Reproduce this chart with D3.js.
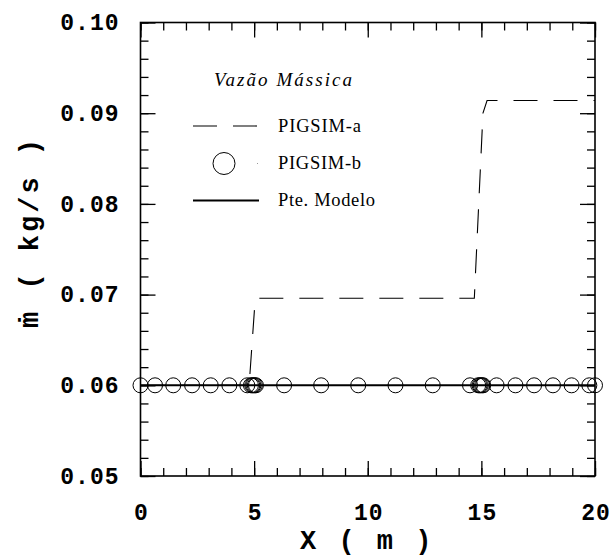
<!DOCTYPE html>
<html>
<head>
<meta charset="utf-8">
<script src="https://cdn.jsdelivr.net/npm/d3@7"></script>
<style>
  body { margin: 0; background: #fff; }
  svg { display: block; }
  .tick text { font-family: "Liberation Mono", "Courier New", monospace; font-weight: bold; font-size: 23px; letter-spacing: 1px; fill: #000; }
</style>
</head>
<body>
<svg id="chart" width="611" height="558"></svg>
<script>
// axis limits and tick values
const xDomain = [0, 20];
const yDomain = [0.05, 0.10];
const xMajor = [0, 5, 10, 15, 20];
const yMajor = [0.05, 0.06, 0.07, 0.08, 0.09, 0.10];

// PIGSIM-a (dashed line)
const pigsimAx = [0, 4.78, 5.05, 14.69, 15.07, 15.25, 20];
const pigsimAy = [0.06, 0.06, 0.0696, 0.0696, 0.0900, 0.0914, 0.0914];

// PIGSIM-b (open circles)
const pigsimBx = [0, 0.64, 1.44, 2.27, 3.09, 3.91, 4.70, 4.86, 4.92, 4.97, 5.03, 5.08,
                  6.32, 7.95, 9.58, 11.22, 12.86, 14.50, 14.86, 14.92, 14.97, 15.03, 15.08,
                  15.67, 16.5, 17.32, 18.15, 18.97, 19.75, 20];
const pigsimBy = pigsimBx.map(() => 0.06);

// Pte. Modelo (solid line)
const modeloX = [0, 20];
const modeloY = [0.06, 0.06];

const legendLabels = ["PIGSIM-a", "PIGSIM-b", "Pte. Modelo"];

const svg = d3.select("#chart");

const pLeft = 140.5, pRight = 595, pTop = 22.5, pBottom = 476;

const x = d3.scaleLinear().domain(xDomain).range([pLeft, pRight]);
const y = d3.scaleLinear().domain(yDomain).range([pBottom, pTop]);

const xMinor = d3.range(xDomain[0], xDomain[1] + 0.001, 1);
const yMinor = d3.range(0, 26).map(i => +(yDomain[0] + i * 0.002).toFixed(3));

// ticks on all four sides, pointing inwards
function tickAxis(axisFn, scale, values, size, labels, pad) {
    return axisFn(scale)
        .tickValues(values)
        .tickSize(-size)
        .tickPadding(pad || 0)
        .tickFormat(labels ? d3.format(labels) : "");
}

const g = svg.append("g");

g.append("g").attr("transform", `translate(0,${pBottom})`)
    .call(tickAxis(d3.axisBottom, x, xMinor, 8));
g.append("g").attr("transform", `translate(0,${pBottom})`)
    .call(tickAxis(d3.axisBottom, x, xMajor, 15, "d", 28))
    .selectAll("text").attr("dx", "0.5px");
g.append("g").attr("transform", `translate(0,${pTop})`)
    .call(tickAxis(d3.axisTop, x, xMinor, 8));
g.append("g").attr("transform", `translate(0,${pTop})`)
    .call(tickAxis(d3.axisTop, x, xMajor, 15));

g.append("g").attr("transform", `translate(${pLeft},0)`)
    .call(tickAxis(d3.axisLeft, y, yMinor, 8));
g.append("g").attr("transform", `translate(${pLeft},0)`)
    .call(tickAxis(d3.axisLeft, y, yMajor, 15, ".2f", 21));
g.append("g").attr("transform", `translate(${pRight},0)`)
    .call(tickAxis(d3.axisRight, y, yMinor, 8));
g.append("g").attr("transform", `translate(${pRight},0)`)
    .call(tickAxis(d3.axisRight, y, yMajor, 15));

g.selectAll(".domain").remove();
g.selectAll(".tick line").attr("stroke", "#000").attr("stroke-width", 1.3);

// frame
svg.append("rect")
    .attr("x", pLeft).attr("y", pTop)
    .attr("width", pRight - pLeft).attr("height", pBottom - pTop)
    .attr("fill", "none").attr("stroke", "#000").attr("stroke-width", 1.6);

const line = d3.line().x(d => x(d[0])).y(d => y(d[1]));

// PIGSIM-a
svg.append("path")
    .datum(d3.zip(pigsimAx, pigsimAy))
    .attr("d", line)
    .attr("fill", "none")
    .attr("stroke", "#000")
    .attr("stroke-width", 1.1)
    .attr("stroke-dasharray", "24,16");

// Pte. Modelo
svg.append("path")
    .datum(d3.zip(modeloX, modeloY))
    .attr("d", line)
    .attr("fill", "none")
    .attr("stroke", "#000")
    .attr("stroke-width", 2);

// PIGSIM-b
svg.selectAll(".pt")
    .data(d3.zip(pigsimBx, pigsimBy))
    .enter()
    .append("circle")
    .attr("class", "pt")
    .attr("cx", d => x(d[0]))
    .attr("cy", d => y(d[1]))
    .attr("r", 7.5)
    .attr("fill", "none")
    .attr("stroke", "#000")
    .attr("stroke-width", 1);

// axis titles
const mono = "'Liberation Mono', 'Courier New', monospace";

svg.append("text")
    .attr("x", 300)
    .attr("y", 549)
    .style("font-family", mono)
    .style("font-weight", "bold")
    .style("font-size", "27px")
    .style("letter-spacing", "3px")
    .text("X ( m )");

svg.append("text")
    .attr("transform", "translate(38,328) rotate(-90)")
    .style("font-family", mono)
    .style("font-weight", "bold")
    .style("font-size", "27px")
    .style("letter-spacing", "3px")
    .text("\u1E41 ( kg/s )");

// legend
const lg = svg.append("g");
const serif = "'Liberation Serif', 'Times New Roman', serif";

lg.append("text")
    .attr("x", 214).attr("y", 86)
    .attr("textLength", 138)
    .style("font-family", serif)
    .style("font-style", "italic")
    .style("font-size", "19px")
    .text("Vazão Mássica");

const rowY = [126, 163.5, 200.5];
const textW = [83, 83, 97];

lg.selectAll(".lt")
    .data(legendLabels)
    .enter()
    .append("text")
    .attr("class", "lt")
    .attr("x", 278)
    .attr("y", (d, i) => rowY[i] + 5.5)
    .attr("textLength", (d, i) => textW[i])
    .style("font-family", serif)
    .style("font-size", "18.5px")
    .text(d => d);

lg.append("line")
    .attr("x1", 193).attr("x2", 259)
    .attr("y1", rowY[0]).attr("y2", rowY[0])
    .attr("stroke", "#000").attr("stroke-width", 1.1)
    .attr("stroke-dasharray", "24,16");

lg.append("circle")
    .attr("cx", 224).attr("cy", rowY[1]).attr("r", 11)
    .attr("fill", "none").attr("stroke", "#000").attr("stroke-width", 1);

lg.append("rect")
    .attr("x", 257).attr("y", rowY[1] - 0.5)
    .attr("width", 1).attr("height", 1)
    .attr("fill", "#999");

lg.append("line")
    .attr("x1", 193).attr("x2", 259)
    .attr("y1", rowY[2]).attr("y2", rowY[2])
    .attr("stroke", "#000").attr("stroke-width", 2);
</script>
</body>
</html>
